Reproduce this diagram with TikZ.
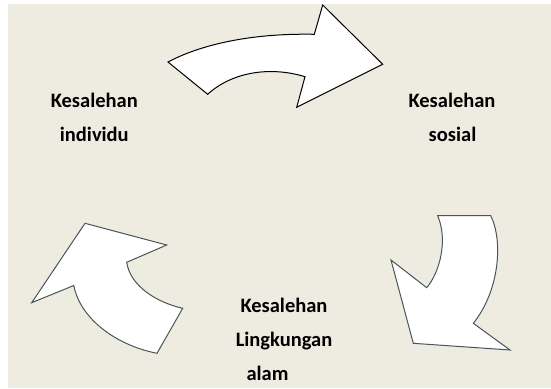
\documentclass[tikz,border=0pt]{standalone}
\usepackage{fontspec}
\setmainfont{Carlito}
\definecolor{bgbeige}{HTML}{EEECE1}
\definecolor{arrowgray}{HTML}{475656}
\tikzset{
  lbl/.style={font=\fontsize{20.5}{24}\selectfont\bfseries, anchor=base, inner sep=0pt, text=black},
  arrowshape/.style={fill=white, line width=1pt, line join=miter},
}
\begin{document}
\begin{tikzpicture}[x=1pt,y=-1pt]
\useasboundingbox (0,0) rectangle (551,388);
\fill[white] (0,0) rectangle (551,388);
\fill[bgbeige] (7.5,4) rectangle (551,388);

% top arrow
\draw[arrowshape, draw=black] (168,62) .. controls (200,45) and (250,33) .. (314.3,34.3)
  -- (322.7,5) -- (382.7,64.3) -- (296.7,107.3) -- (305,76.7)
  .. controls (270,66) and (232,72) .. (207.7,94.3) -- cycle;

% right arrow
\draw[arrowshape, draw=arrowgray] (437.7,215.7) -- (490.7,215.7)
  .. controls (503,240) and (500,290) .. (473.3,323.3)
  -- (510,350) -- (413.3,343.3) -- (391,260) -- (426.7,287.7)
  .. controls (440,272) and (448,240) .. (437.7,215.7) -- cycle;

% left arrow
\draw[arrowshape, draw=arrowgray] (85,223.3) -- (166.7,245) -- (126.7,262.3)
  .. controls (130,285) and (155,302) .. (182.7,308.3)
  -- (157,353.3)
  .. controls (115,345) and (80,318) .. (73.8,285.5)
  -- (31.7,302.7) -- cycle;

\node[lbl] (l1) at (94.3,107.8) {Kesalehan};
\node[lbl] (l2) at (94.3,141.7) {individu};
\node[lbl] (r1) at (452,107.8) {Kesalehan};
\node[lbl] (r2) at (452.5,141.7) {sosial};
\node[lbl] (b1) at (284,312.5) {Kesalehan};
\node[lbl] (b2) at (284,346.5) {Lingkungan};
\node[lbl] (b3) at (267.5,380) {alam};
\end{tikzpicture}
\end{document}
